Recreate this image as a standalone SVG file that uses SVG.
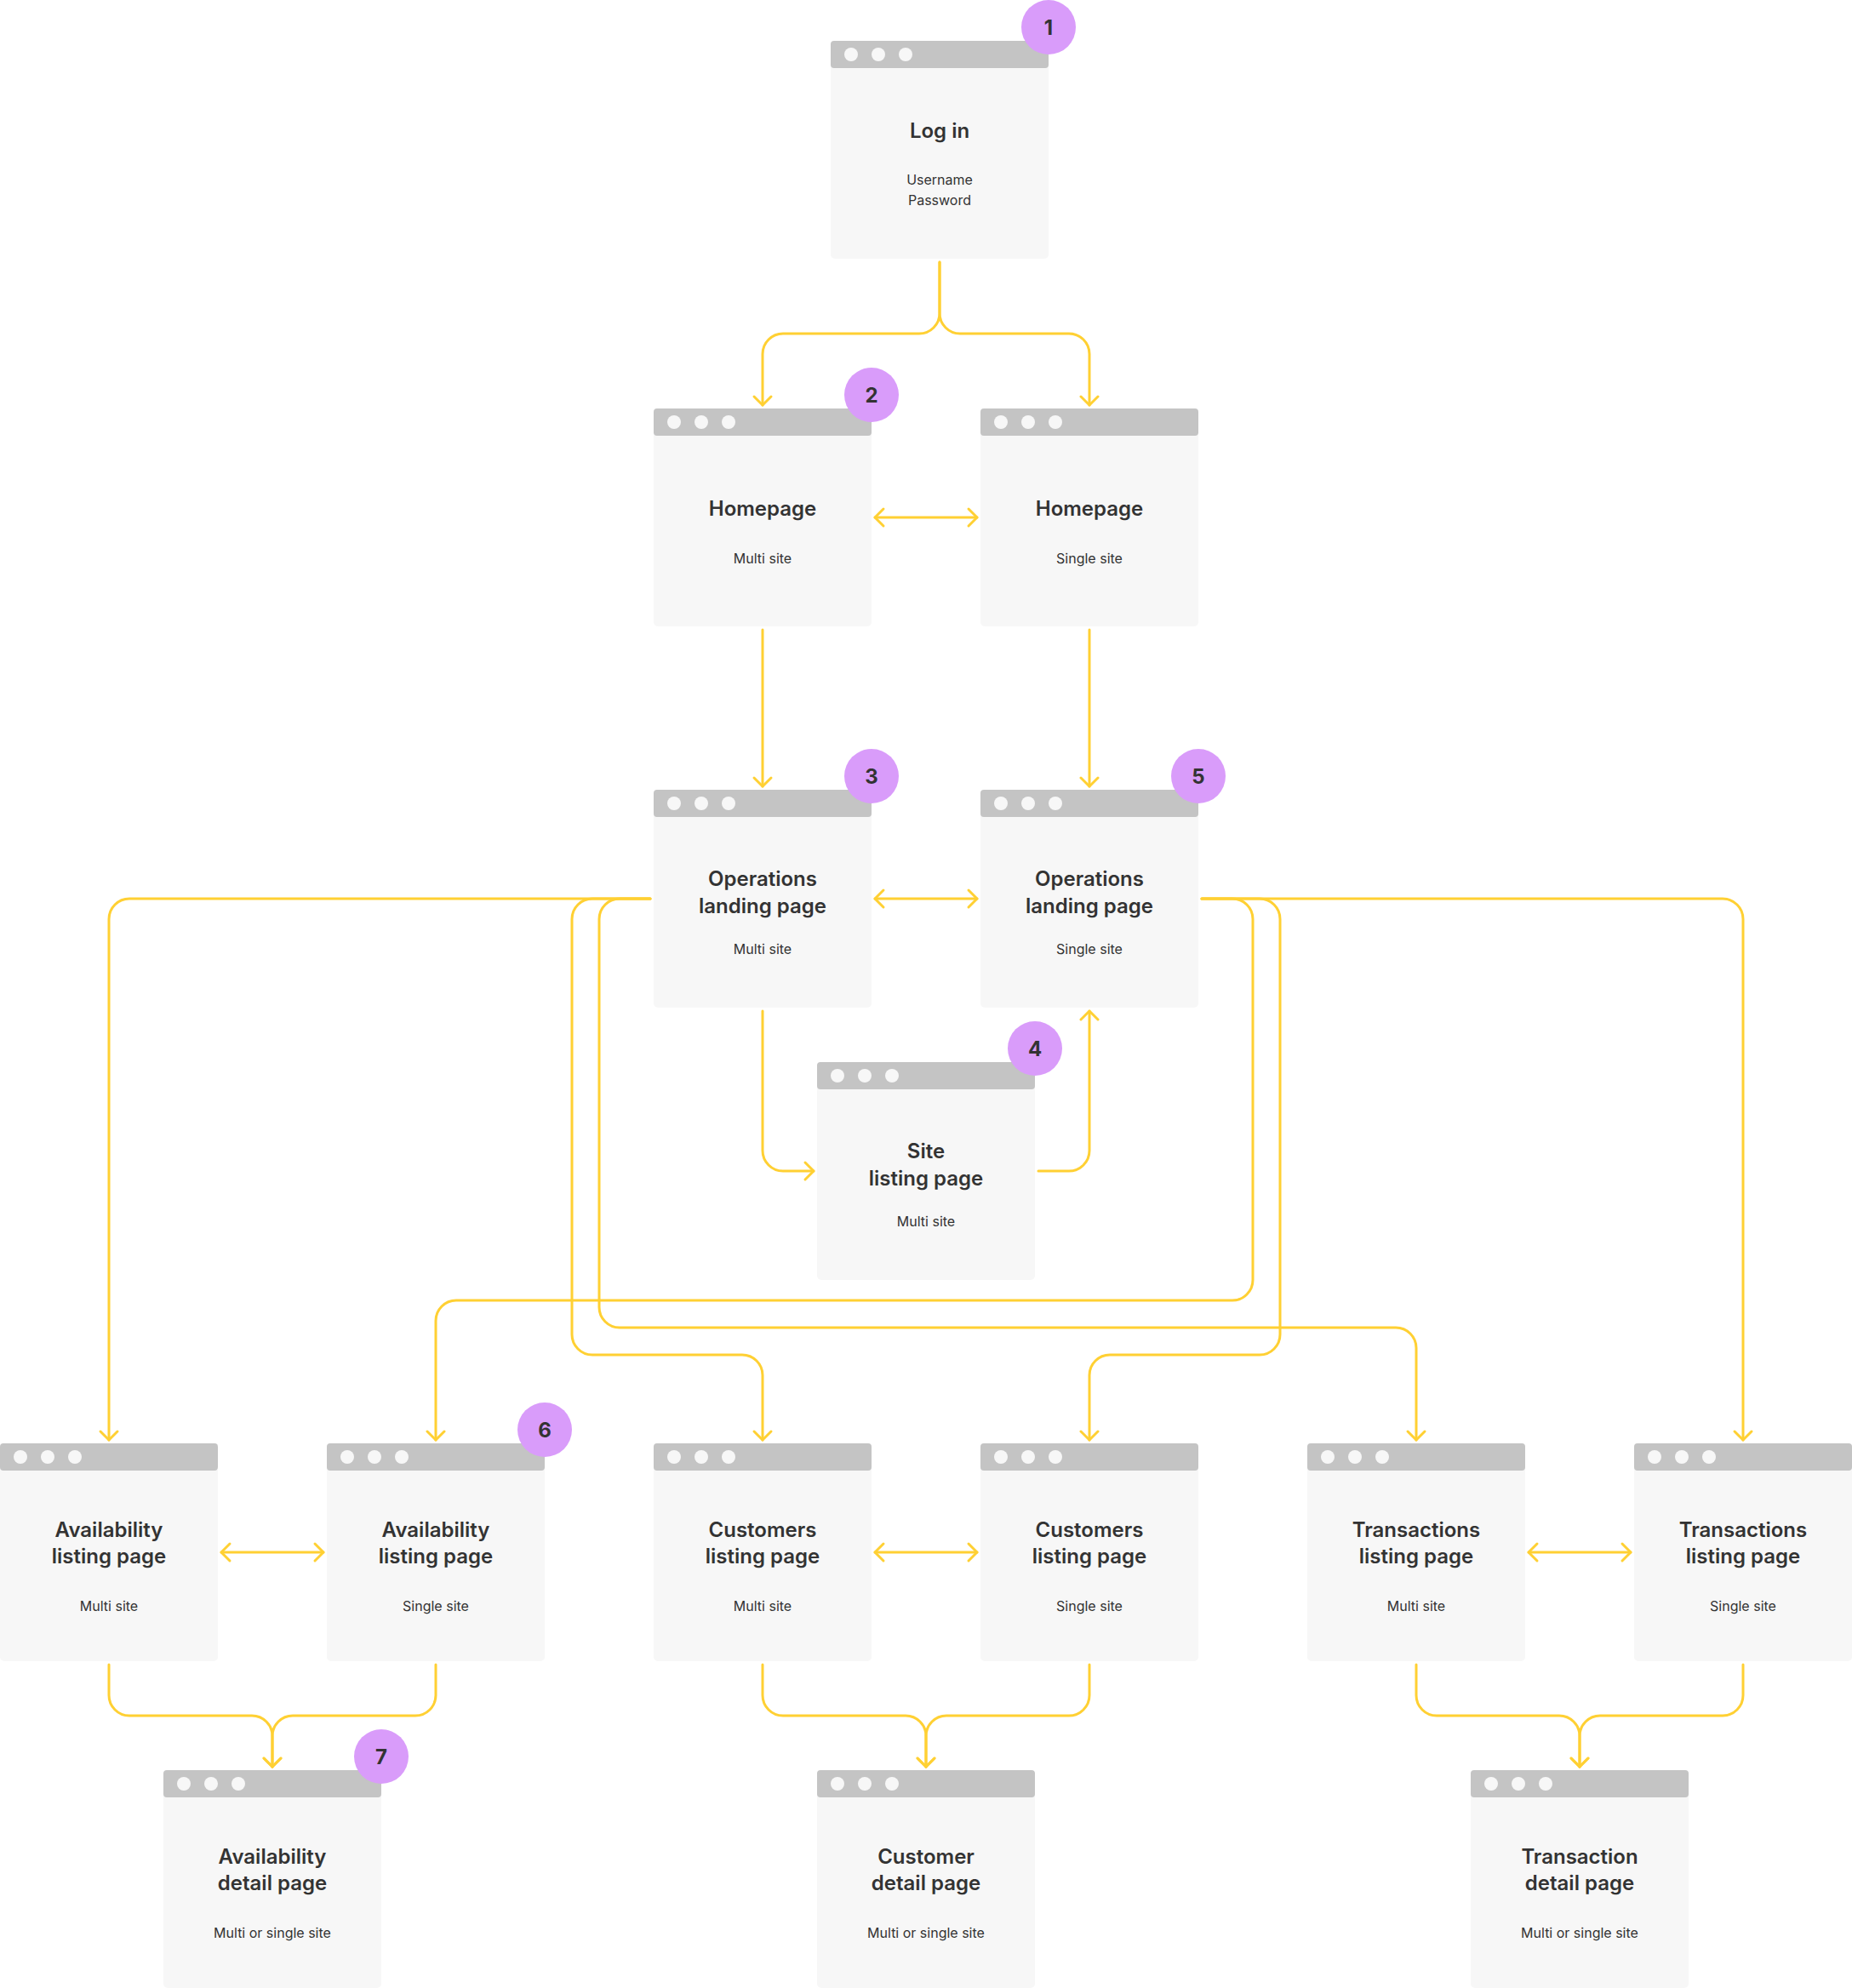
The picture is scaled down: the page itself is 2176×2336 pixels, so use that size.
<svg xmlns="http://www.w3.org/2000/svg" width="2176" height="2336" viewBox="0 0 2176 2336">
<defs>
<style>
.body{fill:#f7f7f7}
.hdr{fill:#c4c4c4}
.dot{fill:#f7f7f7}
.t{font-family:Inter,"Noto Sans","Liberation Sans",sans-serif;font-size:24px;font-weight:600;fill:#333333;text-anchor:middle}
.s{font-family:Inter,"Noto Sans","Liberation Sans",sans-serif;font-size:16px;font-weight:400;fill:#333333;text-anchor:middle}
.badge{fill:#d99cfa}
.bn{font-family:Inter,"Noto Sans","Liberation Sans",sans-serif;font-size:24px;font-weight:700;fill:#333333;text-anchor:middle}
.c{fill:none;stroke:#ffd033;stroke-width:3;stroke-linecap:round;stroke-linejoin:round}
.a{marker-end:url(#arr)}
.aa{marker-end:url(#arr);marker-start:url(#arr)}
</style>
<marker id="arr" markerUnits="userSpaceOnUse" viewBox="-14 -14 18 28" refX="0" refY="0" markerWidth="18" markerHeight="28" orient="auto-start-reverse" overflow="visible">
<path d="M-10,-10 L0,0 L-10,10" fill="none" stroke="#ffd033" stroke-width="3" stroke-linecap="round" stroke-linejoin="round"/>
</marker>
<g id="win">
<rect class="body" x="0" y="0" width="256" height="256" rx="5"/>
<rect class="hdr" x="0" y="0" width="256" height="32" rx="4"/>
<circle class="dot" cx="24" cy="16" r="8"/>
<circle class="dot" cx="56" cy="16" r="8"/>
<circle class="dot" cx="88" cy="16" r="8"/>
</g>
</defs>
<rect width="2176" height="2336" fill="#ffffff"/>

<g id="connectors">
<path class="c a" d="M1104,308 V368 A24,24 0 0 1 1080,392 H920 A24,24 0 0 0 896,416 V476"/>
<path class="c a" d="M1104,308 V368 A24,24 0 0 0 1128,392 H1256 A24,24 0 0 1 1280,416 V476"/>
<path class="c aa" d="M1028,608 H1148"/>
<path class="c a" d="M896,740 V924"/>
<path class="c a" d="M1280,740 V924"/>
<path class="c aa" d="M1028,1056 H1148"/>
<path class="c a" d="M896,1188 V1352 A24,24 0 0 0 920,1376 H956"/>
<path class="c a" d="M1220,1376 H1256 A24,24 0 0 0 1280,1352 V1188"/>
<path class="c a" d="M764,1056 H152 A24,24 0 0 0 128,1080 V1692"/>
<path class="c a" d="M764,1056 H696 A24,24 0 0 0 672,1080 V1568 A24,24 0 0 0 696,1592 H872 A24,24 0 0 1 896,1616 V1692"/>
<path class="c a" d="M764,1056 H728 A24,24 0 0 0 704,1080 V1536 A24,24 0 0 0 728,1560 H1640 A24,24 0 0 1 1664,1584 V1692"/>
<path class="c a" d="M1412,1056 H2024 A24,24 0 0 1 2048,1080 V1692"/>
<path class="c a" d="M1412,1056 H1448 A24,24 0 0 1 1472,1080 V1504 A24,24 0 0 1 1448,1528 H536 A24,24 0 0 0 512,1552 V1692"/>
<path class="c a" d="M1412,1056 H1480 A24,24 0 0 1 1504,1080 V1568 A24,24 0 0 1 1480,1592 H1304 A24,24 0 0 0 1280,1616 V1692"/>
<path class="c aa" d="M260,1824 H380"/>
<path class="c aa" d="M1028,1824 H1148"/>
<path class="c aa" d="M1796,1824 H1916"/>
<path class="c a" d="M128,1956 V1992 A24,24 0 0 0 152,2016 H296 A24,24 0 0 1 320,2040 V2076"/>
<path class="c a" d="M512,1956 V1992 A24,24 0 0 1 488,2016 H344 A24,24 0 0 0 320,2040 V2076"/>
<path class="c a" d="M896,1956 V1992 A24,24 0 0 0 920,2016 H1064 A24,24 0 0 1 1088,2040 V2076"/>
<path class="c a" d="M1280,1956 V1992 A24,24 0 0 1 1256,2016 H1112 A24,24 0 0 0 1088,2040 V2076"/>
<path class="c a" d="M1664,1956 V1992 A24,24 0 0 0 1688,2016 H1832 A24,24 0 0 1 1856,2040 V2076"/>
<path class="c a" d="M2048,1956 V1992 A24,24 0 0 1 2024,2016 H1880 A24,24 0 0 0 1856,2040 V2076"/>
</g>

<g id="login" transform="translate(976,48)">
<use href="#win"/>
<text class="t" x="128" y="114">Log in</text>
<text class="s" x="128" y="169">Username</text>
<text class="s" x="128" y="193">Password</text>
<circle class="badge" cx="256" cy="-16" r="32"/>
<text class="bn" x="256" y="-7">1</text>
</g>

<g id="homepage-multi" transform="translate(768,480)">
<use href="#win"/>
<text class="t" x="128" y="126">Homepage</text>
<text class="s" x="128" y="182">Multi site</text>
<circle class="badge" cx="256" cy="-16" r="32"/>
<text class="bn" x="256" y="-7">2</text>
</g>

<g id="homepage-single" transform="translate(1152,480)">
<use href="#win"/>
<text class="t" x="128" y="126">Homepage</text>
<text class="s" x="128" y="182">Single site</text>
</g>

<g id="operations-multi" transform="translate(768,928)">
<use href="#win"/>
<text class="t" x="128" y="113">Operations</text>
<text class="t" x="128" y="145">landing page</text>
<text class="s" x="128" y="193">Multi site</text>
<circle class="badge" cx="256" cy="-16" r="32"/>
<text class="bn" x="256" y="-7">3</text>
</g>

<g id="operations-single" transform="translate(1152,928)">
<use href="#win"/>
<text class="t" x="128" y="113">Operations</text>
<text class="t" x="128" y="145">landing page</text>
<text class="s" x="128" y="193">Single site</text>
<circle class="badge" cx="256" cy="-16" r="32"/>
<text class="bn" x="256" y="-7">5</text>
</g>

<g id="site-listing" transform="translate(960,1248)">
<use href="#win"/>
<text class="t" x="128" y="113">Site</text>
<text class="t" x="128" y="145">listing page</text>
<text class="s" x="128" y="193">Multi site</text>
<circle class="badge" cx="256" cy="-16" r="32"/>
<text class="bn" x="256" y="-7">4</text>
</g>

<g id="availability-multi" transform="translate(0,1696)">
<use href="#win"/>
<text class="t" x="128" y="110">Availability</text>
<text class="t" x="128" y="141">listing page</text>
<text class="s" x="128" y="197">Multi site</text>
</g>

<g id="availability-single" transform="translate(384,1696)">
<use href="#win"/>
<text class="t" x="128" y="110">Availability</text>
<text class="t" x="128" y="141">listing page</text>
<text class="s" x="128" y="197">Single site</text>
<circle class="badge" cx="256" cy="-16" r="32"/>
<text class="bn" x="256" y="-7">6</text>
</g>

<g id="customers-multi" transform="translate(768,1696)">
<use href="#win"/>
<text class="t" x="128" y="110">Customers</text>
<text class="t" x="128" y="141">listing page</text>
<text class="s" x="128" y="197">Multi site</text>
</g>

<g id="customers-single" transform="translate(1152,1696)">
<use href="#win"/>
<text class="t" x="128" y="110">Customers</text>
<text class="t" x="128" y="141">listing page</text>
<text class="s" x="128" y="197">Single site</text>
</g>

<g id="transactions-multi" transform="translate(1536,1696)">
<use href="#win"/>
<text class="t" x="128" y="110">Transactions</text>
<text class="t" x="128" y="141">listing page</text>
<text class="s" x="128" y="197">Multi site</text>
</g>

<g id="transactions-single" transform="translate(1920,1696)">
<use href="#win"/>
<text class="t" x="128" y="110">Transactions</text>
<text class="t" x="128" y="141">listing page</text>
<text class="s" x="128" y="197">Single site</text>
</g>

<g id="availability-detail" transform="translate(192,2080)">
<use href="#win"/>
<text class="t" x="128" y="110">Availability</text>
<text class="t" x="128" y="141">detail page</text>
<text class="s" x="128" y="197">Multi or single site</text>
<circle class="badge" cx="256" cy="-16" r="32"/>
<text class="bn" x="256" y="-7">7</text>
</g>

<g id="customer-detail" transform="translate(960,2080)">
<use href="#win"/>
<text class="t" x="128" y="110">Customer</text>
<text class="t" x="128" y="141">detail page</text>
<text class="s" x="128" y="197">Multi or single site</text>
</g>

<g id="transaction-detail" transform="translate(1728,2080)">
<use href="#win"/>
<text class="t" x="128" y="110">Transaction</text>
<text class="t" x="128" y="141">detail page</text>
<text class="s" x="128" y="197">Multi or single site</text>
</g>
</svg>
